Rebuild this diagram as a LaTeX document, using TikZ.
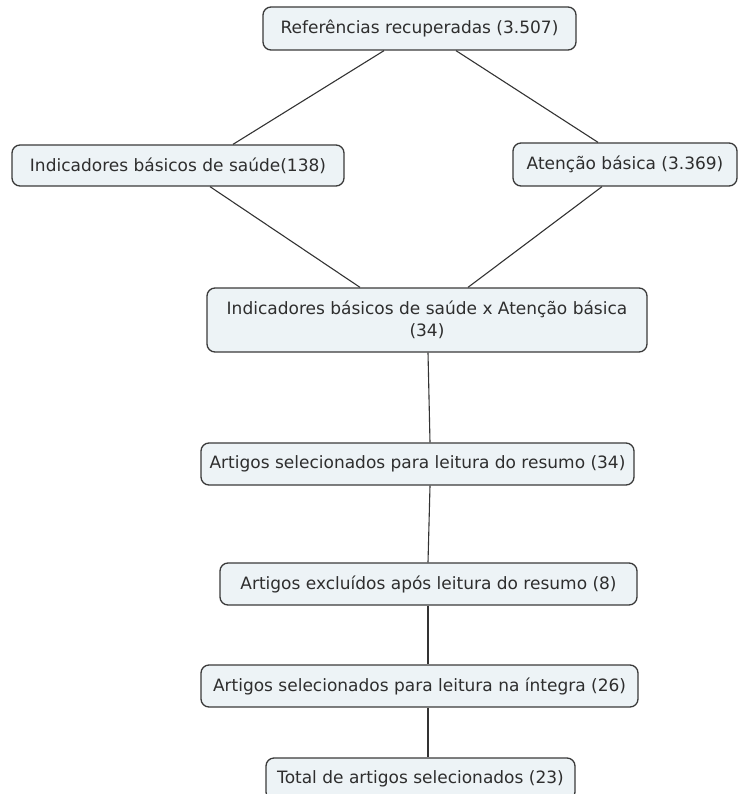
\documentclass[tikz,border=0pt]{standalone}
\usepackage{fontspec}
\setmainfont{DejaVu Sans}
\usetikzlibrary{calc}
\definecolor{boxfill}{HTML}{EDF3F6}
\definecolor{boxdraw}{HTML}{3A3A3A}
\definecolor{linecol}{HTML}{333333}
\definecolor{txtcol}{HTML}{2E2E2E}
\tikzset{
  mapbox/.style={draw=boxdraw, fill=boxfill, line width=1.3pt, rounded corners=8pt,
    inner sep=0pt, align=center, text=txtcol,
    font=\fontsize{17}{21.5}\selectfont},
  conn/.style={draw=linecol, line width=1.1pt}
}
\begin{document}
\begin{tikzpicture}[x=1pt,y=-1pt]
\useasboundingbox (0,0) rectangle (740,794);
\node[mapbox, minimum width=313pt, minimum height=43pt] (n1) at (419.5,28.5) {Referências recuperadas (3.507)};
\node[mapbox, minimum width=332pt, minimum height=41pt] (n2) at (178,165.5) {Indicadores básicos de saúde(138)};
\node[mapbox, minimum width=224pt, minimum height=43pt] (n3) at (625,164.5) {Atenção básica (3.369)};
\node[mapbox, minimum width=440pt, minimum height=64pt] (n4) at (427,320) {Indicadores básicos de saúde x Atenção básica\\(34)};
\node[mapbox, minimum width=433pt, minimum height=42pt] (n5) at (417.5,464) {Artigos selecionados para leitura do resumo (34)};
\node[mapbox, minimum width=417pt, minimum height=42pt] (n6) at (428.5,584) {Artigos excluídos após leitura do resumo (8)};
\node[mapbox, minimum width=437pt, minimum height=42pt] (n7) at (419.5,686) {Artigos selecionados para leitura na íntegra (26)};
\node[mapbox, minimum width=309pt, minimum height=42pt] (n8) at (420.5,779) {Total de artigos selecionados (23)};
\draw[conn] ($(n1.south)+(-35.5,0)$) -- ($(n2.north)+(55,0)$);
\draw[conn] ($(n1.south)+(36.5,0)$) -- ($(n3.north)+(-27,0)$);
\draw[conn] ($(n2.south)+(32,0)$) -- ($(n4.north)+(-67,0)$);
\draw[conn] ($(n3.south)+(-23,0)$) -- ($(n4.north)+(41,0)$);
\draw[conn] ($(n4.south)+(1,0)$) -- ($(n5.north)+(12.5,0)$);
\draw[conn] ($(n5.south)+(12.5,0)$) -- ($(n6.north)+(-0.5,0)$);
\draw[conn] ($(n6.south)+(-0.5,0)$) -- ($(n7.north)+(8.5,0)$);
\draw[conn] ($(n7.south)+(8.5,0)$) -- ($(n8.north)+(7.5,0)$);
\end{tikzpicture}
\end{document}
